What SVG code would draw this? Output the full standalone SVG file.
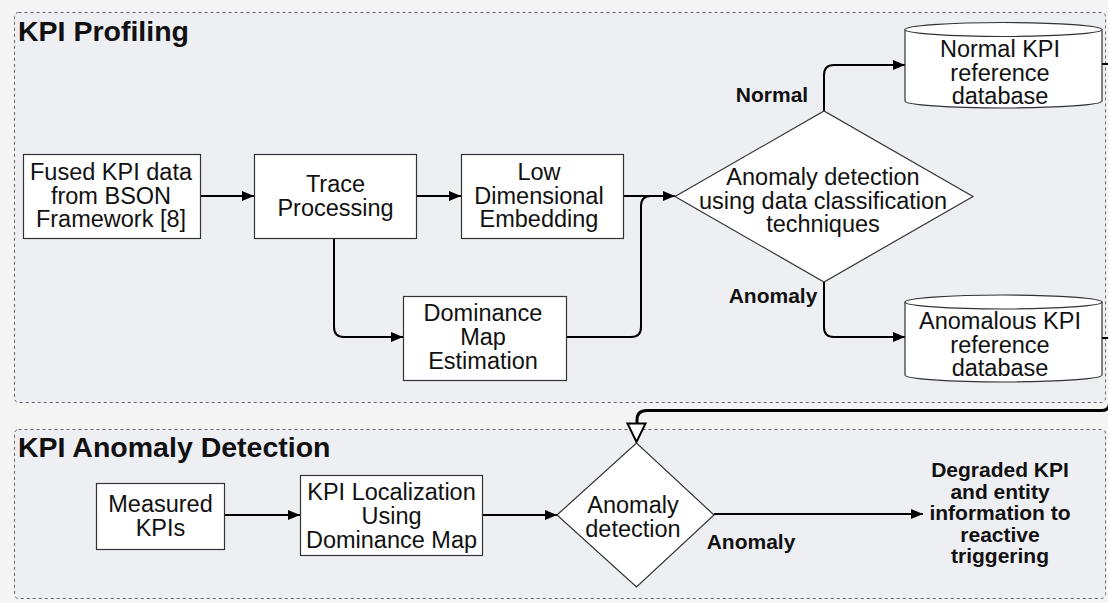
<svg xmlns="http://www.w3.org/2000/svg" width="1108" height="603" viewBox="0 0 1108 603">
<style>
.bg{fill:#f4f4f4}
.cont{fill:#eeeff3;stroke:#666;stroke-width:1;stroke-dasharray:3 3}
.box{fill:#fff;stroke:#333;stroke-width:1.2}
.t{font-family:"Liberation Sans",Arial,sans-serif;font-size:23.5px;fill:#111;text-anchor:middle}
.title{font-family:"Liberation Sans",Arial,sans-serif;font-size:28.5px;font-weight:bold;fill:#111}
.lbl{font-family:"Liberation Sans",Arial,sans-serif;font-size:21px;font-weight:bold;fill:#111;text-anchor:middle}
.c{fill:none;stroke:#000;stroke-width:2}
.fb{fill:none;stroke:#000;stroke-width:3}
</style>
<defs>
<marker id="a" viewBox="0 0 12 10" refX="12" refY="5" markerWidth="12" markerHeight="10" markerUnits="userSpaceOnUse" orient="auto">
<path d="M0,0 L12,5 L0,10 z" fill="#000"/>
</marker>
</defs>
<rect class="bg" x="0" y="0" width="1108" height="603"/>
<g id="profiling">
<rect class="cont" x="14.5" y="12.5" width="1091" height="390" rx="4"/>
<text class="title" x="18" y="41">KPI Profiling</text>
</g>
<g id="detection-group">
<rect class="cont" x="14.5" y="429.5" width="1091" height="169" rx="4"/>
<text class="title" x="18" y="457">KPI Anomaly Detection</text>
</g>
<g id="connectors">
<line class="c" x1="201" y1="196" x2="254" y2="196" marker-end="url(#a)"/>
<line class="c" x1="417" y1="196" x2="461" y2="196" marker-end="url(#a)"/>
<line class="c" x1="624" y1="196" x2="675" y2="196" marker-end="url(#a)"/>
<path class="c" d="M334,239 V327 Q334,337 344,337 H403" marker-end="url(#a)"/>
<path class="c" d="M567,337 H631 Q641,337 641,327 V206 Q641,196 651,196 H660"/>
<path class="c" d="M824,111 V75 Q824,65 834,65 H905" marker-end="url(#a)"/>
<path class="c" d="M824,282 V327 Q824,337 834,337 H905" marker-end="url(#a)"/>
<line class="c" x1="1102" y1="64" x2="1110" y2="64"/>
<line class="c" x1="1102" y1="338" x2="1110" y2="338"/>
<path class="fb" d="M1109.5,64 V403 Q1109.5,410.5 1101,410.5 H647 Q637,410.5 637,420 V424"/>
<path d="M627.5,423.5 H645.5 L636.5,442 Z" fill="#fff" stroke="#000" stroke-width="2"/>
<line class="c" x1="224" y1="515" x2="300" y2="515" marker-end="url(#a)"/>
<line class="c" x1="482" y1="515" x2="557" y2="515" marker-end="url(#a)"/>
<line class="c" x1="714" y1="514" x2="923" y2="514" marker-end="url(#a)"/>
<text class="lbl" x="772" y="102">Normal</text>
<text class="lbl" x="773" y="303">Anomaly</text>
<text class="lbl" x="751" y="549">Anomaly</text>
</g>
<g id="fused">
<rect class="box" x="23.5" y="154.5" width="177" height="84"/>
<text class="t" x="111" y="180">Fused KPI data</text>
<text class="t" x="111" y="203.5">from BSON</text>
<text class="t" x="111" y="227">Framework [8]</text>
</g>
<g id="trace">
<rect class="box" x="254.5" y="154.5" width="162" height="84"/>
<text class="t" x="335.5" y="192">Trace</text>
<text class="t" x="335.5" y="215.5">Processing</text>
</g>
<g id="lowdim">
<rect class="box" x="461.5" y="154.5" width="162" height="84"/>
<text class="t" x="539" y="180">Low</text>
<text class="t" x="539" y="203.5">Dimensional</text>
<text class="t" x="539" y="227">Embedding</text>
</g>
<g id="dominance">
<rect class="box" x="403.5" y="296.5" width="163" height="84"/>
<text class="t" x="483" y="321">Dominance</text>
<text class="t" x="483" y="345">Map</text>
<text class="t" x="483" y="369">Estimation</text>
</g>
<g id="classify">
<polygon class="box" points="675,196.5 824,111 973,196.5 824,282"/>
<text class="t" x="823" y="185">Anomaly detection</text>
<text class="t" x="823" y="208.5">using data classification</text>
<text class="t" x="823" y="232">techniques</text>
</g>
<g id="normaldb">
<path class="box" d="M905,29.5 V101 A98.5,7 0 0 0 1102,101 V29.5 A98.5,7 0 0 0 905,29.5 Z"/>
<path class="box" d="M905,29.5 A98.5,7 0 0 0 1102,29.5" fill="none"/>
<text class="t" x="1000" y="57">Normal KPI</text>
<text class="t" x="1000" y="80.5">reference</text>
<text class="t" x="1000" y="104">database</text>
</g>
<g id="anomdb">
<path class="box" d="M905,302 V375 A98.5,7 0 0 0 1102,375 V302 A98.5,7 0 0 0 905,302 Z"/>
<path class="box" d="M905,302 A98.5,7 0 0 0 1102,302" fill="none"/>
<text class="t" x="1000" y="329">Anomalous KPI</text>
<text class="t" x="1000" y="352.5">reference</text>
<text class="t" x="1000" y="376">database</text>
</g>
<g id="measured">
<rect class="box" x="96.5" y="483.5" width="128" height="66"/>
<text class="t" x="160.5" y="512">Measured</text>
<text class="t" x="160.5" y="536">KPIs</text>
</g>
<g id="localization">
<rect class="box" x="300.5" y="475.5" width="182" height="80"/>
<text class="t" x="391.5" y="500">KPI Localization</text>
<text class="t" x="391.5" y="524">Using</text>
<text class="t" x="391.5" y="548">Dominance Map</text>
</g>
<g id="detect">
<polygon class="box" points="557,515 636.5,443 714,515 636.5,587"/>
<text class="t" x="633" y="513">Anomaly</text>
<text class="t" x="633" y="537">detection</text>
</g>
<g id="output">
<text class="lbl" x="1000" y="477">Degraded KPI</text>
<text class="lbl" x="1000" y="498.5">and entity</text>
<text class="lbl" x="1000" y="520">information to</text>
<text class="lbl" x="1000" y="541.5">reactive</text>
<text class="lbl" x="1000" y="563">triggering</text>
</g>
</svg>
